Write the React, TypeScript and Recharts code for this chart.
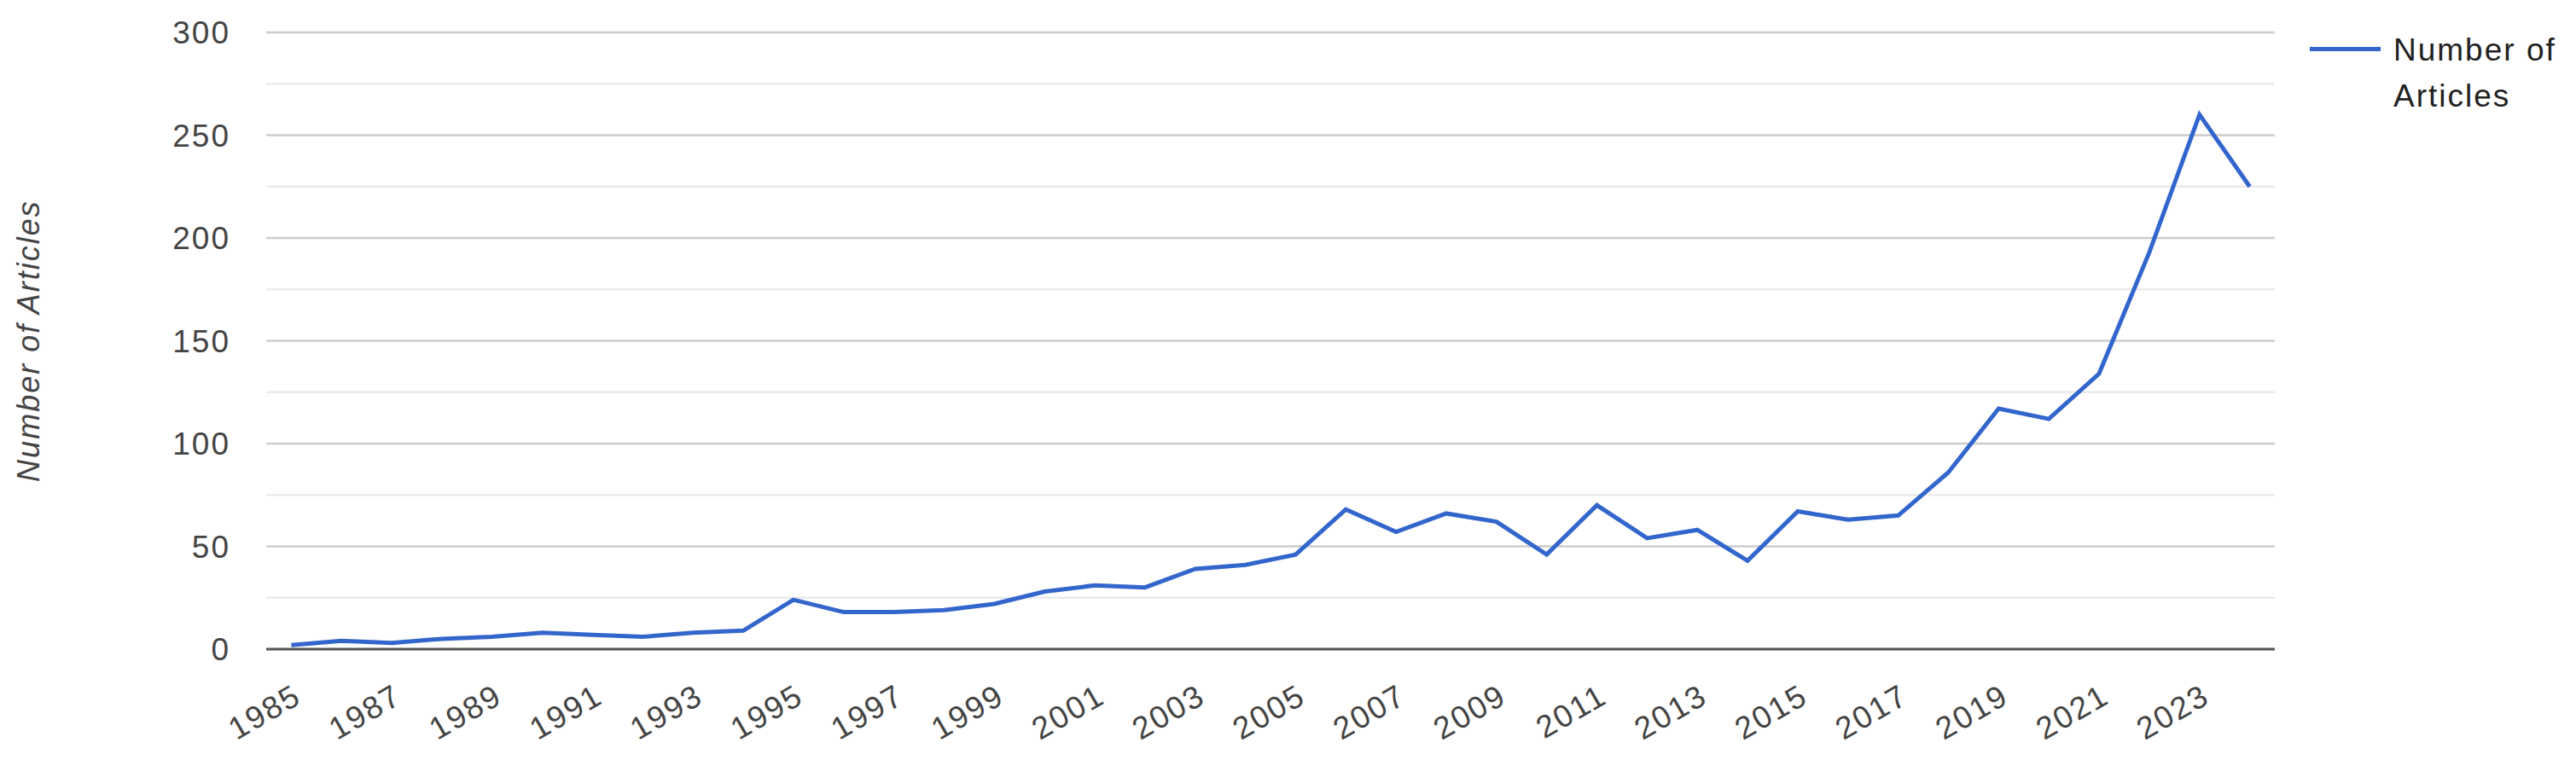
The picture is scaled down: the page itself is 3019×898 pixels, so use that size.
import { LineChart, Line, XAxis, YAxis, CartesianGrid, ReferenceLine } from 'recharts';

const years = [
    '1985', '1986', '1987', '1988', '1989', '1990', '1991', '1992', '1993', '1994',
    '1995', '1996', '1997', '1998', '1999', '2000', '2001', '2002', '2003', '2004',
    '2005', '2006', '2007', '2008', '2009', '2010', '2011', '2012', '2013', '2014',
    '2015', '2016', '2017', '2018', '2019', '2020', '2021', '2022', '2023', '2024',
];

const articles = [
    2, 4, 3, 5, 6, 8, 7, 6, 8, 9,
    24, 18, 18, 19, 22, 28, 31, 30, 39, 41,
    46, 68, 57, 66, 62, 46, 70, 54, 58, 43,
    67, 63, 65, 86, 117, 112, 134, 193, 260, 225,
];

const majorTicks = [0, 50, 100, 150, 200, 250, 300];
const minorTicks = [25, 75, 125, 175, 225, 275];

const seriesName = 'Number of Articles';

const data = years.map((year, i) => ({ year, value: articles[i] }));

const FONT = '"Liberation Sans", Arial, sans-serif';

const SlantedTick = (props: any) => {
    const { x, y, payload } = props;
    const ax = x + 14;
    return (
        <text
            x={ax}
            y={y}
            textAnchor="end"
            transform={`rotate(-30, ${ax}, ${y})`}
            fill="#444"
            fontSize={37}
            letterSpacing={2}
            fontFamily={FONT}
        >
            {payload.value}
        </text>
    );
};

const YTitle = (props: any) => {
    const { viewBox } = props;
    const cy = viewBox.y + viewBox.height / 2;
    return (
        <text
            transform={`translate(46, ${cy}) rotate(-90)`}
            textAnchor="middle"
            fill="#444"
            fontSize={36}
            letterSpacing={2}
            fontStyle="italic"
            fontFamily={FONT}
        >
            {seriesName}
        </text>
    );
};

const App = () => {
    return (
        <div style={{ position: 'absolute', left: 0, top: 0, width: 3019, height: 898, background: '#fff' }}>
            <LineChart
                width={3019}
                height={898}
                data={data}
                margin={{ top: 38, right: 353, bottom: 0, left: 0 }}
            >
                <CartesianGrid vertical={false} stroke="#cccccc" strokeWidth={2.5} />
                {minorTicks.map((t) => (
                    <ReferenceLine key={t} y={t} stroke="#ebebeb" strokeWidth={2.5} />
                ))}
                <ReferenceLine y={0} stroke="#555" strokeWidth={3} />
                <XAxis
                    dataKey="year"
                    interval={1}
                    height={137}
                    padding={{ left: 29.4, right: 29.4 }}
                    axisLine={false}
                    tickLine={false}
                    tickSize={0}
                    tickMargin={62}
                    tick={<SlantedTick />}
                />
                <YAxis
                    width={312}
                    domain={[0, 300]}
                    ticks={majorTicks}
                    axisLine={false}
                    tickLine={false}
                    tickSize={0}
                    tickMargin={42}
                    tick={{ fill: '#444', fontSize: 37, letterSpacing: 2, fontFamily: FONT }}
                    label={<YTitle />}
                />
                <Line
                    type="linear"
                    dataKey="value"
                    name={seriesName}
                    stroke="#3366cc"
                    strokeWidth={5}
                    dot={false}
                    isAnimationActive={false}
                />
            </LineChart>
            <div style={{ position: 'absolute', left: 2707, top: 31.5, fontFamily: FONT, fontSize: 37, letterSpacing: 2, lineHeight: '54px', color: '#222' }}>
                <svg width={84} height={54} style={{ position: 'absolute', left: 0, top: 0 }}>
                    <line x1={0} y1={25.5} x2={83} y2={25.5} stroke="#3366cc" strokeWidth={5} />
                </svg>
                <div style={{ position: 'absolute', left: 98, top: 0, width: 260 }}>
                    Number of<br />Articles
                </div>
            </div>
        </div>
    );
};

export default App;
